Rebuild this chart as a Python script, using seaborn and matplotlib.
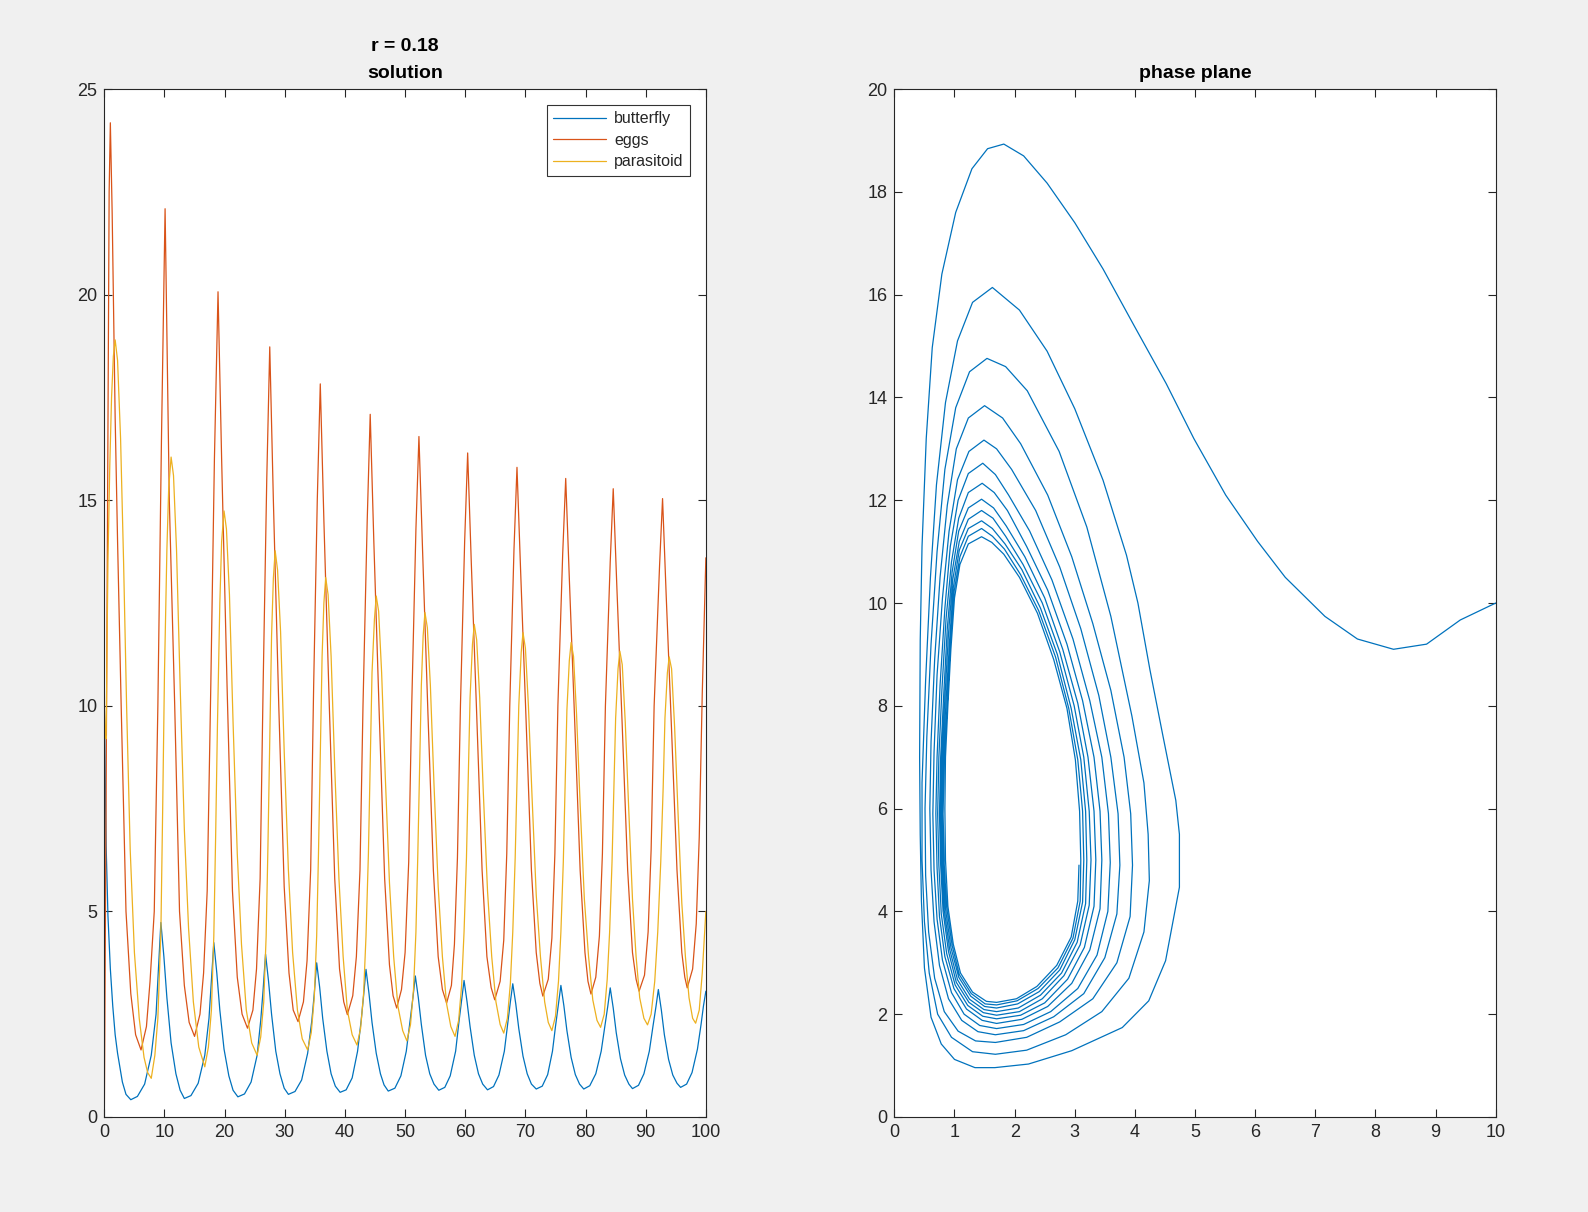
import matplotlib
matplotlib.use("Agg")
import matplotlib.pyplot as plt
import seaborn as sns
import pandas as pd

# MATLAB default line colours
C_BUT = "#0072BD"
C_EGG = "#D95319"
C_PAR = "#EDB120"

# butterfly
but_t = [0, 0.3, 0.6, 1.0, 1.4, 1.8, 2.2, 3.0, 3.6, 4.4,
         5.5, 6.7, 7.8, 8.6, 9.0, 9.4, 9.9, 10.4, 11.1, 11.9, 12.6, 13.3,
         14.4, 15.6, 16.7, 17.4, 17.8, 18.2, 18.7, 19.2, 19.9, 20.7, 21.4, 22.2,
         23.3, 24.4, 25.4, 26.0, 26.4, 26.8, 27.3, 27.8, 28.5, 29.2, 29.9, 30.6,
         31.7, 32.8, 33.8, 34.5, 34.9, 35.3, 35.8, 36.3, 37.0, 37.7, 38.4, 39.2,
         40.2, 41.2, 42.1, 42.7, 43.1, 43.5, 44.0, 44.5, 45.2, 45.9, 46.5, 47.2,
         48.3, 49.3, 50.2, 50.8, 51.3, 51.7, 52.2, 52.7, 53.4, 54.1, 54.8, 55.6,
         56.6, 57.5, 58.4, 58.9, 59.4, 59.8, 60.3, 60.8, 61.5, 62.2, 62.9, 63.7,
         64.7, 65.6, 66.5, 67.0, 67.5, 67.9, 68.4, 68.9, 69.6, 70.3, 71.0, 71.8,
         72.8, 73.7, 74.5, 75.0, 75.5, 75.9, 76.4, 76.9, 77.6, 78.3, 79.0, 79.7,
         80.7, 81.7, 82.6, 83.2, 83.7, 84.1, 84.6, 85.1, 85.8, 86.5, 87.2, 87.8,
         88.8, 89.7, 90.6, 91.2, 91.7, 92.1, 92.6, 93.1, 93.8, 94.5, 95.2, 95.8,
         96.8, 97.7, 98.6, 99.2, 99.6, 100]
but_v = [10, 6.6, 4.9, 3.6, 2.7, 2.0, 1.55, 0.85, 0.55, 0.42,
         0.5, 0.8, 1.5, 2.5, 3.6, 4.73, 3.9, 2.9, 1.8, 1.05, 0.65, 0.45,
         0.52, 0.82, 1.5, 2.4, 3.3, 4.24, 3.5, 2.6, 1.65, 1.0, 0.65, 0.49,
         0.56, 0.85, 1.5, 2.35, 3.1, 3.96, 3.3, 2.5, 1.6, 1.05, 0.7, 0.55,
         0.62, 0.9, 1.55, 2.35, 3.0, 3.75, 3.15, 2.4, 1.6, 1.05, 0.75, 0.6,
         0.66, 0.95, 1.6, 2.35, 2.95, 3.59, 3.0, 2.3, 1.55, 1.05, 0.78, 0.63,
         0.7, 1.0, 1.6, 2.3, 2.9, 3.43, 2.9, 2.25, 1.5, 1.05, 0.8, 0.65,
         0.72, 1.0, 1.6, 2.25, 2.85, 3.32, 2.8, 2.2, 1.5, 1.05, 0.8, 0.66,
         0.74, 1.02, 1.6, 2.2, 2.8, 3.24, 2.75, 2.15, 1.48, 1.05, 0.8, 0.68,
         0.75, 1.03, 1.6, 2.2, 2.75, 3.2, 2.7, 2.1, 1.45, 1.03, 0.8, 0.68,
         0.76, 1.05, 1.6, 2.2, 2.7, 3.14, 2.65, 2.05, 1.42, 1.02, 0.8, 0.69,
         0.77, 1.05, 1.6, 2.2, 2.68, 3.1, 2.6, 2.0, 1.4, 1.02, 0.82, 0.72,
         0.8, 1.08, 1.65, 2.25, 2.7, 3.06]

# eggs
egg_t = [0, 0.3, 0.6, 0.8, 1.0, 1.3, 1.8, 2.2, 2.8, 3.6, 4.4, 5.2, 6.1,
         7.0, 7.6, 8.3, 8.9, 9.5, 10.1, 10.8, 11.7, 12.5, 13.3, 14.1, 15.0,
         15.9, 16.5, 17.1, 17.7, 18.3, 18.9, 19.5, 20.4, 21.3, 22.1, 22.9, 23.8,
         24.7, 25.3, 25.9, 26.4, 27.0, 27.5, 28.1, 29.0, 29.9, 30.7, 31.4, 32.2,
         33.1, 33.7, 34.3, 34.8, 35.4, 35.9, 36.5, 37.4, 38.3, 39.1, 39.8, 40.4,
         41.3, 41.9, 42.5, 43.0, 43.7, 44.2, 44.8, 45.7, 46.6, 47.4, 48.0, 48.6,
         49.4, 50.0, 50.6, 51.1, 51.8, 52.3, 52.9, 53.8, 54.7, 55.5, 56.2, 56.9,
         57.7, 58.2, 58.7, 59.2, 59.9, 60.4, 61.0, 61.9, 62.8, 63.6, 64.3, 64.9,
         65.8, 66.4, 66.9, 67.4, 68.1, 68.6, 69.2, 70.1, 71.0, 71.8, 72.4, 72.9,
         73.8, 74.4, 74.9, 75.4, 76.2, 76.7, 77.3, 78.2, 79.1, 79.9, 80.4, 80.9,
         81.7, 82.3, 82.8, 83.3, 84.1, 84.6, 85.2, 86.1, 87.0, 87.8, 88.4, 88.9,
         89.8, 90.4, 90.9, 91.4, 92.3, 92.8, 93.4, 94.3, 95.2, 96.0, 96.5, 96.9,
         97.8, 98.4, 98.9, 99.4, 100]
egg_v = [0, 8.0, 17.0, 22.5, 24.18, 22.0, 17.0, 14.0, 10.0, 5.0, 3.0, 2.0, 1.63,
         2.2, 3.3, 5.0, 10.0, 16.5, 22.09, 15.0, 10.0, 5.0, 3.2, 2.3, 1.96,
         2.5, 3.5, 5.5, 10.5, 16.0, 20.07, 16.0, 10.5, 5.5, 3.4, 2.5, 2.16,
         2.6, 3.6, 5.8, 10.5, 15.5, 18.73, 15.0, 10.0, 5.6, 3.5, 2.6, 2.32,
         2.8, 3.8, 6.0, 10.5, 15.0, 17.83, 14.5, 10.0, 5.8, 3.6, 2.8, 2.49,
         2.95, 3.9, 6.0, 10.0, 14.5, 17.09, 14.0, 9.8, 5.8, 3.7, 2.95, 2.65,
         3.1, 4.0, 6.2, 10.0, 14.3, 16.55, 13.8, 9.8, 6.0, 3.9, 3.1, 2.77,
         3.2, 4.2, 6.3, 10.0, 14.0, 16.15, 13.5, 9.8, 6.0, 3.9, 3.15, 2.85,
         3.3, 4.3, 6.4, 10.0, 13.8, 15.8, 13.3, 9.7, 6.0, 4.0, 3.25, 2.94,
         3.35, 4.35, 6.4, 10.0, 13.7, 15.53, 13.1, 9.6, 6.0, 4.0, 3.3, 2.99,
         3.4, 4.4, 6.4, 10.0, 13.5, 15.28, 12.9, 9.5, 6.0, 4.0, 3.35, 3.06,
         3.45, 4.5, 6.5, 10.0, 13.4, 15.04, 12.7, 9.4, 6.0, 4.0, 3.4, 3.14,
         3.6, 4.7, 6.8, 10.3, 13.6]

# parasitoid
par_t = [0, 0.15, 0.3, 0.45, 0.6, 0.9, 1.2, 1.5, 1.8,
         2.2, 2.7, 3.2, 3.7, 4.3, 5.0, 5.8, 6.6, 7.2, 7.8,
         8.4, 8.9, 9.4, 9.7, 10.0, 10.4, 10.7, 11.1, 11.5, 12.0, 12.6, 13.3, 14.0, 14.8, 15.7, 16.7,
         17.3, 17.8, 18.2, 18.5, 18.8, 19.2, 19.5, 19.9, 20.3, 20.8, 21.4, 22.1, 22.8, 23.6, 24.5, 25.4,
         26.0, 26.5, 26.9, 27.2, 27.5, 27.8, 28.1, 28.4, 28.8, 29.3, 29.9, 30.6, 31.3, 32.1, 32.9, 33.8,
         34.4, 34.9, 35.3, 35.6, 35.9, 36.2, 36.5, 36.8, 37.2, 37.7, 38.3, 39.0, 39.7, 40.4, 41.2, 42.0,
         42.6, 43.1, 43.5, 43.9, 44.2, 44.5, 44.9, 45.2, 45.6, 46.1, 46.7, 47.4, 48.1, 48.8, 49.6, 50.3,
         50.9, 51.4, 51.8, 52.1, 52.4, 52.7, 53.0, 53.3, 53.7, 54.2, 54.8, 55.5, 56.2, 56.9, 57.6, 58.3,
         58.9, 59.4, 59.8, 60.2, 60.5, 60.8, 61.2, 61.5, 61.9, 62.4, 63.0, 63.7, 64.4, 65.1, 65.8, 66.4,
         67.0, 67.5, 67.9, 68.3, 68.6, 68.9, 69.3, 69.6, 70.0, 70.5, 71.1, 71.8, 72.5, 73.2, 73.8, 74.4,
         75.0, 75.5, 75.9, 76.3, 76.6, 76.9, 77.3, 77.6, 78.0, 78.5, 79.1, 79.8, 80.5, 81.2, 81.9, 82.5,
         83.1, 83.6, 84.0, 84.4, 84.7, 85.0, 85.4, 85.7, 86.1, 86.6, 87.2, 87.8, 88.4, 89.0, 89.7, 90.3,
         90.9, 91.5, 92.0, 92.5, 92.9, 93.2, 93.6, 93.9, 94.3, 94.8, 95.4, 96.0, 96.6, 97.2, 97.8, 98.3,
         98.9, 99.4, 100]
par_v = [10, 9.3, 9.2, 11.5, 13.5, 15.8, 17.5, 18.5, 18.9,
         18.4, 16.5, 13.5, 10.0, 6.5, 4.0, 2.4, 1.45, 1.08, 0.94,
         1.5, 2.4, 4.5, 7.5, 10.8, 13.8, 15.3, 16.05, 15.6, 13.8, 10.5, 7.0, 4.6, 2.8, 1.7, 1.22,
         1.7, 2.6, 4.4, 6.8, 9.5, 12.5, 14.0, 14.74, 14.3, 12.7, 9.6, 6.4, 4.2, 2.6, 1.8, 1.5,
         1.95, 2.8, 4.4, 6.6, 9.1, 11.7, 13.1, 13.77, 13.3, 11.8, 8.9, 6.0, 4.0, 2.6, 1.9, 1.63,
         2.05, 2.9, 4.4, 6.4, 8.8, 11.2, 12.5, 13.12, 12.7, 11.2, 8.5, 5.8, 3.9, 2.6, 2.0, 1.75,
         2.15, 3.0, 4.4, 6.4, 8.6, 10.8, 12.1, 12.67, 12.3, 10.8, 8.3, 5.7, 3.9, 2.7, 2.1, 1.85,
         2.25, 3.1, 4.5, 6.3, 8.4, 10.5, 11.7, 12.27, 11.9, 10.5, 8.1, 5.6, 3.9, 2.75, 2.2, 1.96,
         2.35, 3.2, 4.5, 6.3, 8.3, 10.2, 11.5, 11.98, 11.6, 10.2, 7.9, 5.5, 3.9, 2.8, 2.25, 2.04,
         2.4, 3.25, 4.5, 6.3, 8.2, 10.0, 11.3, 11.78, 11.4, 10.0, 7.8, 5.4, 3.9, 2.8, 2.3, 2.1,
         2.45, 3.3, 4.5, 6.2, 8.1, 9.9, 11.1, 11.54, 11.2, 9.8, 7.6, 5.3, 3.9, 2.85, 2.35, 2.18,
         2.5, 3.35, 4.5, 6.2, 8.0, 9.7, 10.9, 11.33, 11.0, 9.6, 7.4, 5.3, 3.9, 2.9, 2.4, 2.24,
         2.5, 3.3, 4.5, 6.2, 8.0, 9.7, 10.8, 11.19, 10.9, 9.5, 7.3, 5.2, 3.9, 2.9, 2.4, 2.28,
         2.6, 3.5, 5.0]

phase_x = [10.0, 9.41, 8.85, 8.3, 7.7, 7.16, 6.5, 6.04, 5.51, 4.98, 4.52, 3.99, 3.47, 3.0, 2.54, 2.15,
           1.82, 1.55, 1.29, 1.02, 0.79, 0.63, 0.53, 0.46, 0.43, 0.42, 0.43, 0.45, 0.5, 0.61, 0.78, 1.0, 1.34,
           1.67, 2.23, 2.95, 3.79, 4.23, 4.51, 4.74, 4.74, 4.68, 4.46, 4.25, 4.05, 3.86, 3.47, 3.0, 2.54, 2.08,
           1.63, 1.3, 1.05, 0.85, 0.7, 0.6, 0.52, 0.46, 0.46, 0.5, 0.58, 0.72, 0.95, 1.3,
           1.68, 2.2, 2.85, 3.45, 3.9, 4.15, 4.24, 4.22, 4.15, 3.95, 3.6, 3.2, 2.74, 2.21, 1.85,
           1.54, 1.25, 1.02, 0.84, 0.71, 0.61, 0.54, 0.51, 0.52, 0.57, 0.67, 0.83, 1.06, 1.35,
           1.68, 2.2, 2.75, 3.3, 3.7, 3.92, 3.96, 3.93, 3.82, 3.6, 3.3, 2.95, 2.55, 2.1, 1.8,
           1.5, 1.23, 1.03, 0.88, 0.76, 0.67, 0.61, 0.59, 0.61, 0.66, 0.75, 0.9, 1.12, 1.39,
           1.68, 2.15, 2.65, 3.15, 3.5, 3.7, 3.75, 3.72, 3.6, 3.4, 3.1, 2.75, 2.35, 1.95, 1.7,
           1.49, 1.24, 1.05, 0.91, 0.8, 0.71, 0.66, 0.64, 0.66, 0.71, 0.8, 0.95, 1.16, 1.42,
           1.7, 2.15, 2.6, 3.05, 3.37, 3.55, 3.59, 3.56, 3.45, 3.25, 2.97, 2.62, 2.25, 1.9, 1.68,
           1.47, 1.23, 1.06, 0.93, 0.84, 0.76, 0.71, 0.69, 0.71, 0.75, 0.84, 0.99, 1.2, 1.46,
           1.7, 2.12, 2.55, 2.95, 3.25, 3.42, 3.45, 3.42, 3.32, 3.13, 2.87, 2.55, 2.2, 1.88, 1.66,
           1.46, 1.23, 1.07, 0.95, 0.86, 0.79, 0.74, 0.72, 0.74, 0.78, 0.87, 1.01, 1.22, 1.47,
           1.7, 2.1, 2.5, 2.88, 3.16, 3.32, 3.35, 3.32, 3.22, 3.05, 2.8, 2.5, 2.17, 1.86, 1.65,
           1.45, 1.23, 1.07, 0.96, 0.88, 0.82, 0.77, 0.75, 0.77, 0.81, 0.9, 1.03, 1.24, 1.48,
           1.7, 2.08, 2.46, 2.82, 3.09, 3.24, 3.27, 3.24, 3.15, 2.99, 2.75, 2.46, 2.14, 1.85, 1.64,
           1.45, 1.23, 1.08, 0.97, 0.9, 0.84, 0.79, 0.77, 0.79, 0.83, 0.92, 1.05, 1.25, 1.49,
           1.7, 2.06, 2.43, 2.78, 3.04, 3.18, 3.2, 3.18, 3.1, 2.94, 2.71, 2.43, 2.12, 1.84, 1.63,
           1.45, 1.23, 1.08, 0.98, 0.92, 0.86, 0.81, 0.79, 0.81, 0.85, 0.94, 1.07, 1.27, 1.5,
           1.7, 2.05, 2.41, 2.75, 3.0, 3.13, 3.15, 3.13, 3.05, 2.9, 2.68, 2.4, 2.1, 1.83, 1.63,
           1.45, 1.23, 1.09, 0.99, 0.93, 0.88, 0.83, 0.81, 0.83, 0.87, 0.96, 1.08, 1.28, 1.51,
           1.7, 2.04, 2.39, 2.72, 2.97, 3.09, 3.1, 3.08, 3.01, 2.87, 2.65, 2.38, 2.08, 1.82, 1.62,
           1.45, 1.23, 1.09, 1.0, 0.94, 0.89, 0.85, 0.84, 0.85, 0.89, 0.98, 1.1, 1.3, 1.53,
           1.7, 2.03, 2.37, 2.7, 2.94, 3.05, 3.07]
phase_y = [10.0, 9.67, 9.2, 9.1, 9.3, 9.74, 10.5, 11.2, 12.1, 13.2, 14.27, 15.39, 16.5, 17.4, 18.17, 18.7,
           18.93, 18.84, 18.45, 17.6, 16.4, 14.97, 13.2, 11.1, 9.27, 7.0, 5.5, 4.2, 2.9, 1.94, 1.42, 1.12, 0.96,
           0.96, 1.03, 1.29, 1.74, 2.26, 3.04, 4.47, 5.5, 6.16, 7.45, 8.7, 10.0, 10.93, 12.39, 13.78, 14.9, 15.7,
           16.14, 15.85, 15.1, 13.9, 12.3, 10.5, 8.5, 6.5, 5.0, 3.8, 2.8, 2.0, 1.55, 1.27,
           1.22, 1.3, 1.6, 2.05, 2.7, 3.6, 4.6, 5.5, 6.5, 7.8, 9.74, 11.48, 12.95, 14.13, 14.6,
           14.76, 14.5, 13.8, 12.6, 11.0, 9.2, 7.4, 6.0, 4.7, 3.6, 2.7, 2.05, 1.67, 1.48,
           1.45, 1.55, 1.85, 2.3, 3.0, 3.9, 4.9, 5.9, 7.0, 8.3, 9.6, 10.9, 12.1, 13.1, 13.6,
           13.84, 13.6, 13.0, 11.9, 10.5, 8.9, 7.3, 6.0, 4.8, 3.8, 2.95, 2.3, 1.88, 1.66,
           1.6, 1.68, 1.95, 2.4, 3.1, 3.95, 4.9, 5.9, 7.0, 8.2, 9.5, 10.7, 11.8, 12.6, 13.0,
           13.17, 12.95, 12.4, 11.4, 10.1, 8.6, 7.1, 5.9, 4.8, 3.85, 3.05, 2.42, 2.0, 1.78,
           1.72, 1.8, 2.05, 2.5, 3.15, 4.0, 4.95, 5.9, 7.0, 8.1, 9.3, 10.45, 11.4, 12.1, 12.5,
           12.72, 12.52, 12.0, 11.1, 9.9, 8.4, 7.0, 5.9, 4.85, 3.9, 3.12, 2.5, 2.1, 1.88,
           1.82, 1.9, 2.15, 2.6, 3.25, 4.05, 5.0, 5.95, 7.0, 8.1, 9.2, 10.25, 11.1, 11.8, 12.15,
           12.33, 12.15, 11.65, 10.8, 9.7, 8.3, 7.0, 5.9, 4.9, 3.95, 3.18, 2.57, 2.17, 1.96,
           1.91, 1.98, 2.22, 2.68, 3.3, 4.1, 5.0, 5.95, 7.0, 8.05, 9.1, 10.1, 10.9, 11.5, 11.85,
           12.02, 11.85, 11.4, 10.6, 9.5, 8.2, 7.0, 5.9, 4.9, 4.0, 3.22, 2.62, 2.23, 2.03,
           1.98, 2.05, 2.3, 2.75, 3.35, 4.12, 5.0, 5.95, 7.0, 8.0, 9.05, 10.0, 10.75, 11.3, 11.65,
           11.8, 11.63, 11.2, 10.45, 9.4, 8.15, 7.0, 5.9, 4.9, 4.02, 3.26, 2.67, 2.29, 2.09,
           2.05, 2.12, 2.37, 2.8, 3.4, 4.15, 5.0, 5.95, 6.95, 7.95, 9.0, 9.9, 10.65, 11.15, 11.45,
           11.6, 11.45, 11.03, 10.3, 9.3, 8.1, 7.0, 5.9, 4.9, 4.05, 3.3, 2.72, 2.35, 2.15,
           2.12, 2.2, 2.44, 2.86, 3.45, 4.18, 5.0, 5.95, 6.95, 7.95, 8.95, 9.85, 10.55, 11.05, 11.3,
           11.45, 11.3, 10.9, 10.2, 9.2, 8.05, 7.0, 5.9, 4.9, 4.08, 3.34, 2.77, 2.4, 2.2,
           2.18, 2.26, 2.5, 2.9, 3.48, 4.2, 5.0, 5.95, 6.95, 7.95, 8.9, 9.8, 10.5, 10.95, 11.18,
           11.29, 11.15, 10.75, 10.1, 9.1, 8.0, 7.0, 6.0, 5.0, 4.1, 3.36, 2.8, 2.43, 2.25,
           2.23, 2.3, 2.54, 2.95, 3.5, 4.2, 4.9]

BG = "#F0F0F0"
AX_COL = "#262626"

sns.set_theme(style="white")
plt.rcParams["font.family"] = ["Liberation Sans", "DejaVu Sans"]

fig = plt.figure(figsize=(15.88, 12.12), dpi=100, facecolor=BG)
ax1 = fig.add_axes([0.0657, 0.0784, 0.3788, 0.8481])
ax2 = fig.add_axes([0.5632, 0.0784, 0.3787, 0.8481])

# left panel: time series
lw = 0.9
sns.lineplot(x=but_t, y=but_v, ax=ax1, color=C_BUT, linewidth=lw, label="butterfly", sort=False, estimator=None)
sns.lineplot(x=egg_t, y=egg_v, ax=ax1, color=C_EGG, linewidth=lw, label="eggs", sort=False, estimator=None)
sns.lineplot(x=par_t, y=par_v, ax=ax1, color=C_PAR, linewidth=lw, label="parasitoid", sort=False, estimator=None)
ax1.set_xlim(0, 100)
ax1.set_ylim(0, 25)
ax1.set_xticks(range(0, 101, 10))
ax1.set_yticks(range(0, 26, 5))
ax1.set_title("r = 0.18\nsolution", fontsize=14, fontweight="bold", color="black", pad=8, linespacing=1.75)
leg = ax1.legend(loc="upper right", fontsize=11.5, frameon=True, fancybox=False,
                 edgecolor="black", handlelength=3.3, handletextpad=0.5, borderpad=0.4,
                 labelspacing=0.4, borderaxespad=1.0)
leg.get_frame().set_linewidth(0.8)
for txt in leg.get_texts():
    txt.set_color(AX_COL)

# right panel: phase plane
phase = pd.DataFrame({"x": phase_x, "y": phase_y})
sns.lineplot(data=phase, x="x", y="y", ax=ax2, color=C_BUT, linewidth=lw, sort=False, estimator=None)
ax2.set_xlim(0, 10)
ax2.set_ylim(0, 20)
ax2.set_xticks(range(0, 11))
ax2.set_yticks(range(0, 21, 2))
ax2.set_title("phase plane", fontsize=14, fontweight="bold", color="black", pad=8)

for ax in (ax1, ax2):
    ax.set_facecolor("white")
    ax.set_xlabel("")
    ax.set_ylabel("")
    for s in ax.spines.values():
        s.set_color(AX_COL)
        s.set_linewidth(0.8)
    ax.tick_params(direction="in", length=6, width=0.8, colors=AX_COL, labelsize=13,
                   top=True, right=True, bottom=True, left=True, pad=5)
    for lab in ax.get_xticklabels() + ax.get_yticklabels():
        lab.set_color(AX_COL)

fig.savefig("out.png", dpi=100, facecolor=BG)
